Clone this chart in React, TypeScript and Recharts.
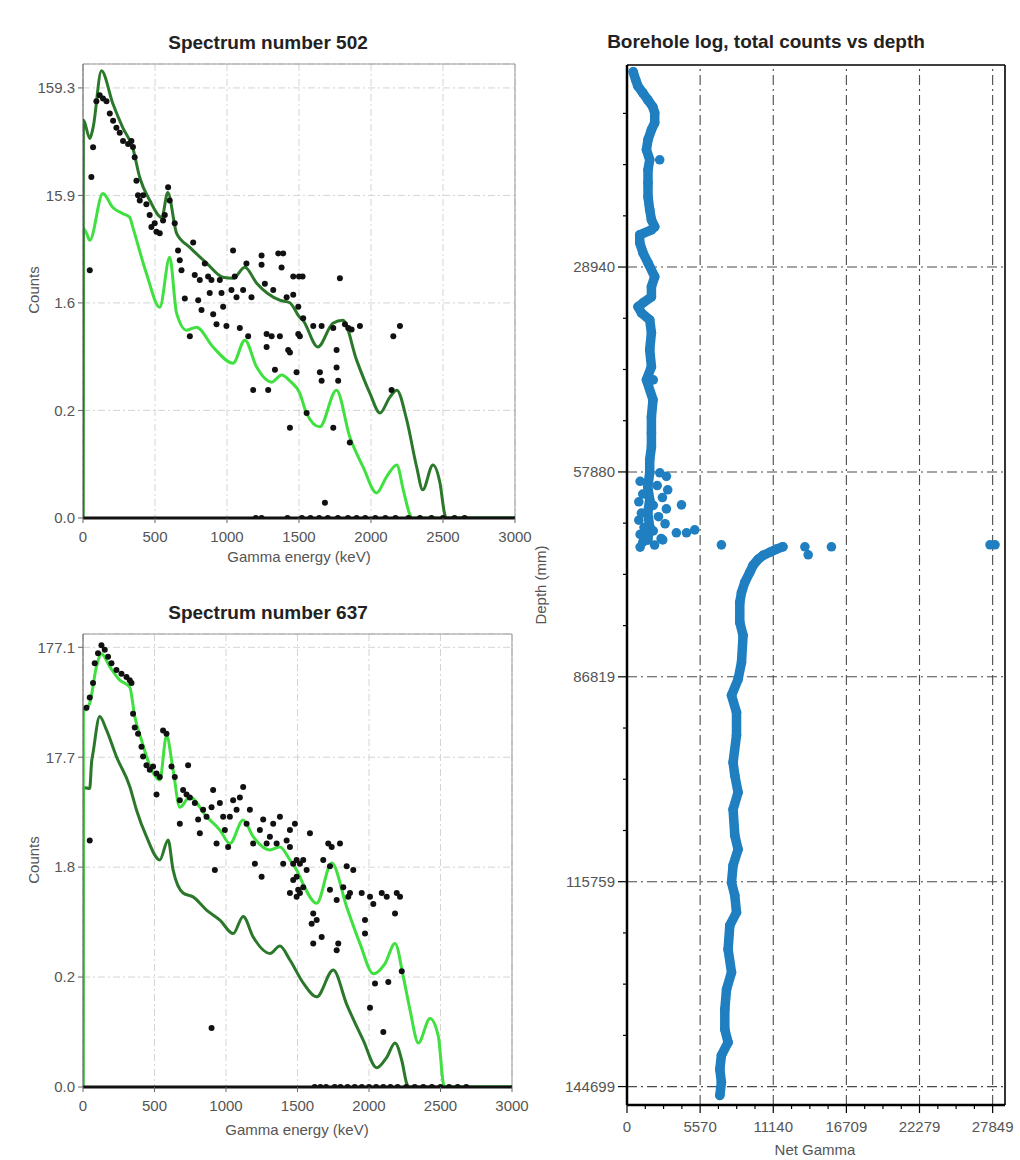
import React from 'react';
import {
  ComposedChart,
  ScatterChart,
  Line,
  Scatter,
  XAxis,
  YAxis,
  CartesianGrid,
  ReferenceLine,
} from 'recharts';

type Pt = [number, number];

const FONT = '"Liberation Sans", Arial, Helvetica, sans-serif';
const DARK = '#2b782b';
const LIGHT = '#3fe03f';
const BLUE = '#1f7fc0';

// ---------- Spectrum 502 : [energy keV, counts] ----------
const s502YTicks = [0.0159, 0.1593, 1.593, 15.93, 159.3];
const s502YMax = 266;
const s502DarkFit: Pt[] = [
  [0, 0.0159], [3, 80], [47, 54], [70, 68], [128, 230], [207, 114], [276, 68], [346, 44],
  [394, 23.4], [464, 14.3], [547, 9.95], [589, 17], [650, 7.07], [742, 5.24], [860, 3.72],
  [972, 2.76], [1042, 2.7], [1124, 3.42], [1206, 2.43], [1366, 1.69], [1436, 1.6], [1505, 1.17],
  [1527, 1.1], [1631, 0.62], [1735, 1.03], [1805, 1.1], [1900, 0.468], [1992, 0.231],
  [2062, 0.151], [2131, 0.212], [2179, 0.246], [2248, 0.13], [2317, 0.0475], [2359, 0.0291],
  [2430, 0.0496], [2479, 0.0337], [2513, 0.017], [2525, 0.0159], [3000, 0.0159],
];
const s502LightFit: Pt[] = [
  [0, 0.0159], [3, 7.8], [25, 7.07], [47, 6.09], [138, 16.6], [207, 12.3], [276, 10.8],
  [324, 10], [346, 8.04], [440, 3.01], [533, 1.45], [602, 4.23], [650, 1.28], [719, 0.889],
  [788, 0.948], [903, 0.62], [1042, 0.438], [1124, 0.718], [1206, 0.403], [1310, 0.292],
  [1380, 0.34], [1436, 0.3], [1505, 0.231], [1551, 0.151], [1644, 0.112], [1760, 0.246],
  [1853, 0.09], [1945, 0.0475], [2039, 0.0272], [2108, 0.0384], [2179, 0.0496], [2224, 0.0291],
  [2271, 0.017], [2285, 0.0159], [3000, 0.0159],
];
const s502Counts: Pt[] = [
  [58, 23.6], [47, 3.2], [70, 44.7], [93, 120], [116, 136], [139, 127], [163, 120], [186, 92],
  [209, 79], [232, 68], [255, 61], [278, 51], [313, 48], [336, 51], [347, 45], [359, 36],
  [371, 21.8], [382, 16], [394, 14.3], [417, 16], [440, 13.2], [463, 10.5], [475, 8.1],
  [498, 8.8], [510, 7.3], [533, 7.1], [556, 9.3], [568, 10.5], [591, 19], [602, 14.3],
  [637, 8.8], [660, 4.9], [672, 3.97], [684, 3.2], [707, 1.75], [742, 0.78], [765, 5.8],
  [776, 2.9], [811, 2.6], [800, 1.69], [823, 1.37], [846, 3.7], [869, 2.8], [892, 2.6],
  [880, 1.97], [904, 1.25], [927, 1.01], [950, 2.6], [962, 1.97], [973, 1.47], [996, 0.97],
  [1031, 2.1], [1042, 4.9], [1054, 2.8], [1066, 1.8], [1089, 0.93], [1112, 2.1], [1135, 3.7],
  [1147, 0.78], [1170, 1.8], [1182, 0.247], [1240, 4.4], [1240, 3.6], [1263, 2.4], [1275, 0.82],
  [1275, 0.62], [1286, 0.247], [1310, 0.78], [1321, 2.1], [1333, 0.38], [1356, 4.6],
  [1367, 0.78], [1379, 3.4], [1390, 4.6], [1414, 1.8], [1425, 0.58], [1437, 0.11], [1460, 2.8],
  [1483, 0.36], [1495, 0.82], [1495, 1.47], [1500, 2.8], [1525, 2.8], [1460, 1.9], [1529, 1.15],
  [1506, 0.78], [1437, 0.55], [1599, 0.97], [1657, 0.97], [1645, 0.36], [1657, 0.3],
  [1553, 0.151], [1738, 0.93], [1761, 0.58], [1761, 0.4], [1772, 0.3], [1738, 0.11],
  [1784, 2.7], [1819, 1.01], [1842, 0.93], [1865, 0.9], [1923, 0.97], [1853, 0.08],
  [1680, 0.022], [2143, 0.247], [2155, 0.78], [2201, 0.97],
  [1200, 0.0159], [1240, 0.0159], [1420, 0.0159], [1520, 0.0159], [1580, 0.0159], [1640, 0.0159],
  [1700, 0.0159], [1770, 0.0159], [1840, 0.0159], [1900, 0.0159], [1960, 0.0159], [2030, 0.0159],
  [2100, 0.0159], [2170, 0.0159], [2260, 0.0159], [2340, 0.0159], [2420, 0.0159], [2500, 0.0159],
  [2580, 0.0159], [2650, 0.0159],
];

// ---------- Spectrum 637 : [energy keV, counts] ----------
const s637YTicks = [0.0177, 0.1771, 1.771, 17.71, 177.1];
const s637YMax = 234;
const s637DarkFit: Pt[] = [
  [0, 0.0177], [3, 9.4], [47, 9.2], [60, 16], [70, 19.3], [117, 41.5], [164, 31.4], [234, 17.9],
  [327, 9.6], [374, 5.87], [444, 3.35], [537, 2.06], [595, 3.13], [630, 1.67], [700, 1.03],
  [770, 0.95], [864, 0.72], [957, 0.585], [1050, 0.44], [1120, 0.63], [1190, 0.41], [1307, 0.29],
  [1377, 0.34], [1447, 0.253], [1542, 0.155], [1634, 0.117], [1750, 0.205], [1844, 0.1],
  [1960, 0.047], [2054, 0.0265], [2124, 0.033], [2182, 0.0446], [2229, 0.031], [2264, 0.019],
  [2275, 0.0177], [3000, 0.0177],
];
const s637LightFit: Pt[] = [
  [0, 0.0177], [3, 48], [12, 47.7], [47, 55], [94, 118], [129, 155], [187, 118], [257, 89],
  [327, 77], [362, 41.5], [409, 25.4], [479, 13.6], [537, 11], [584, 27.8], [630, 13.6],
  [677, 6.2], [747, 7.7], [864, 5.1], [957, 3.86], [1027, 2.9], [1120, 4.76], [1190, 3.35],
  [1307, 2.54], [1377, 2.7], [1447, 2.06], [1494, 1.67], [1542, 1.22], [1634, 0.83], [1739, 1.93],
  [1844, 0.77], [1937, 0.357], [2030, 0.19], [2112, 0.235], [2182, 0.357], [2240, 0.178],
  [2287, 0.0887], [2345, 0.0446], [2427, 0.0745], [2485, 0.051], [2520, 0.019], [2530, 0.0177],
  [3000, 0.0177],
];
const s637Counts: Pt[] = [
  [24, 50], [47, 62], [70, 84], [82, 127], [105, 156], [129, 185], [152, 168], [175, 145],
  [199, 127], [234, 110], [269, 102], [304, 95], [327, 89], [339, 84], [350, 44], [362, 33],
  [385, 29], [409, 22], [420, 18], [444, 15], [467, 13.6], [490, 14.6], [514, 12.6], [537, 11.7],
  [514, 8.1], [560, 31], [584, 29], [619, 14.6], [642, 11.7], [677, 7.2], [700, 8.9], [724, 8.1],
  [747, 7.6], [677, 4.4], [735, 15], [782, 6.8], [805, 4.8], [817, 3.6], [840, 5.9], [864, 5.1],
  [899, 6.2], [910, 8.9], [934, 2.9], [957, 6.8], [980, 5.1], [992, 3.86], [1015, 2.7],
  [1027, 5.1], [1050, 7.2], [1074, 5.9], [1097, 7.6], [1120, 9.5], [1144, 4.4], [1167, 5.9],
  [1190, 2.9], [1202, 1.9], [1237, 3.86], [1249, 1.45], [1260, 4.8], [1284, 2.9], [1307, 3.35],
  [1330, 4.4], [1354, 2.9], [1377, 5.1], [1400, 1.9], [1424, 3.1], [1447, 2.7], [1470, 1.9],
  [1482, 4.4], [1494, 1.45], [1505, 1.1], [1447, 1.03], [922, 1.67], [899, 0.061], [47, 3.1],
  [1587, 3.6], [1447, 3.86], [1470, 1.35], [1494, 2.06], [1517, 1.9], [1540, 2.06], [1564, 1.67],
  [1540, 1.16], [1494, 0.95], [1517, 1.03], [1610, 0.67], [1634, 0.585], [1599, 0.54],
  [1610, 0.357], [1669, 0.41], [1715, 2.9], [1739, 2.7], [1797, 2.9], [1680, 2.06], [1727, 1.8],
  [1844, 1.8], [1890, 1.67], [1727, 1.1], [1774, 0.89], [1820, 1.16], [1855, 0.95], [1785, 0.357],
  [1774, 0.31], [1867, 1.03], [1949, 1.03], [2007, 0.95], [2089, 1.03], [2124, 0.95], [2194, 1.03],
  [2217, 0.95], [2030, 0.82], [2182, 0.67], [1972, 0.585], [1972, 0.44], [2229, 0.2], [2042, 0.155],
  [2135, 0.16], [2007, 0.093], [2100, 0.056],
  [1620, 0.0177], [1660, 0.0177], [1700, 0.0177], [1760, 0.0177], [1800, 0.0177], [1850, 0.0177],
  [1900, 0.0177], [1950, 0.0177], [2000, 0.0177], [2050, 0.0177], [2100, 0.0177], [2150, 0.0177],
  [2200, 0.0177], [2260, 0.0177], [2320, 0.0177], [2380, 0.0177], [2440, 0.0177], [2500, 0.0177],
  [2560, 0.0177], [2620, 0.0177], [2680, 0.0177],
];

const energyTicks = [0, 500, 1000, 1500, 2000, 2500, 3000];

// ---------- Borehole : [depth mm, net gamma] ----------
const boreDepthTicks = [28940, 57880, 86819, 115759, 144699];
const boreGammaTicks = [0, 5570, 11140, 16709, 22279, 27849];
const boreDepthDomain: Pt = [400, 147300];
const boreGammaDomain: Pt = [0, 28790];
const boreUpper: Pt[] = [
  [1360, 470], [2490, 660], [3330, 815], [4320, 1200], [5310, 1580], [6300, 1960], [7150, 2110],
  [8560, 2110], [9550, 1860], [10960, 1600], [12380, 1480], [13790, 1730], [15200, 1600],
  [17040, 1600], [19020, 1600], [20850, 1730], [22260, 1860], [23250, 2110], [23680, 1860],
  [24380, 970], [25510, 970], [26930, 1220], [28340, 1600], [30320, 2110], [31730, 1860],
  [33140, 1860], [34000, 1220], [34550, 840], [35400, 1100], [36390, 1730], [38230, 1860],
  [40630, 1730], [43030, 1860], [44870, 1480], [47690, 1980], [50090, 1860], [52350, 1860],
  [54330, 1860], [56170, 1730], [58000, 1730], [59980, 1580], [61820, 1730], [63660, 1580],
  [65640, 1730], [67480, 1580],
];
const boreLower: Pt[] = [
  [68450, 11870], [68780, 11390], [69230, 10880], [69660, 10370], [70230, 9980], [71080, 9600],
  [72070, 9350], [73480, 8970], [74900, 8720], [76310, 8590], [79130, 8590], [80970, 8840],
  [84780, 8720], [87180, 8460], [89440, 7960], [91840, 8340], [95090, 8340], [98910, 8080],
  [100750, 8210], [103150, 8460], [105550, 8080], [109220, 8210], [111200, 8460], [113460, 8080],
  [115860, 7960], [117700, 8210], [120100, 8340], [121930, 7830], [125320, 7700], [128570, 7960],
  [130970, 7580], [133800, 7450], [136620, 7450], [138460, 7700], [140290, 7190], [142270, 7070],
  [144100, 7190], [145940, 7070],
];
const boreScattered: Pt[] = [
  [13790, 2490], [44870, 2000],
  [58000, 2500], [58500, 3000], [59200, 1000], [59800, 2300], [60400, 3100], [61000, 1200],
  [61500, 2700], [62100, 900], [62600, 2000], [63100, 3000], [63700, 1100], [64200, 2400],
  [64700, 900], [65200, 2900], [65700, 1300], [66200, 2000], [66700, 1000], [67300, 2600],
  [67800, 1200], [68200, 2100], [68500, 1000],
  [62530, 4150], [66480, 3760], [66480, 4530], [66060, 5160], [67480, 2720], [68180, 7190],
  [68450, 13550], [69580, 13800], [68450, 15570], [68170, 27650], [68170, 28030],
];

const specXY = (a: Pt[]) => a.map(([e, v]) => ({ e, v }));
const boreXY = (a: Pt[]) => a.map(([d, g]) => ({ d, g }));

const BlackDot = (p: any) => <circle cx={p.cx} cy={p.cy} r={3} fill="#111" />;
const BlueDot = (p: any) => <circle cx={p.cx} cy={p.cy} r={4.8} fill={BLUE} />;

const TickStyle = { fill: '#555', fontSize: 15, fontFamily: FONT };

function Spectrum(props: {
  dark: Pt[];
  light: Pt[];
  counts: Pt[];
  yTicks: number[];
  yMax: number;
  lightOnTop: boolean;
  height: number;
  xAxisHeight: number;
  marginRight: number;
}) {
  const { dark, light, counts, yTicks, yMax, lightOnTop, height, xAxisHeight, marginRight } = props;
  const darkLine = (
    <Line
      key="dark"
      data={specXY(dark)}
      dataKey="v"
      type="monotone"
      stroke={DARK}
      strokeWidth={3}
      dot={false}
      isAnimationActive={false}
    />
  );
  const lightLine = (
    <Line
      key="light"
      data={specXY(light)}
      dataKey="v"
      type="monotone"
      stroke={LIGHT}
      strokeWidth={3}
      dot={false}
      isAnimationActive={false}
    />
  );
  return (
    <ComposedChart width={545} height={height} margin={{ top: 64, right: marginRight, bottom: 0, left: 23 }}>
      <CartesianGrid stroke="#d4d4d4" strokeDasharray="7 3 2 3" />
      <XAxis
        type="number"
        dataKey="e"
        domain={[0, 3000]}
        ticks={energyTicks}
        interval={0}
        allowDataOverflow
        height={xAxisHeight}
        tick={TickStyle}
        tickSize={5}
        tickMargin={8}
        tickLine={{ stroke: '#666' }}
        axisLine={{ stroke: '#111', strokeWidth: 3 }}
      />
      <YAxis
        type="number"
        dataKey="v"
        scale="log"
        domain={[yTicks[0], yMax]}
        ticks={yTicks}
        interval={0}
        allowDataOverflow
        width={60}
        tick={TickStyle}
        tickSize={5}
        tickMargin={3}
        tickLine={{ stroke: '#666' }}
        axisLine={{ stroke: '#555' }}
        tickFormatter={(v: number) => v.toFixed(1)}
      />
      <ReferenceLine y={yMax} stroke="#999" ifOverflow="visible" />
      <ReferenceLine x={3000} stroke="#999" ifOverflow="visible" />
      {lightOnTop ? darkLine : lightLine}
      {lightOnTop ? lightLine : darkLine}
      <Scatter data={specXY(counts)} dataKey="v" shape={BlackDot} isAnimationActive={false} />
    </ComposedChart>
  );
}

const minorOf = (major: number[], max: number) => {
  const step = (major[major.length - 1] - major[major.length - 2]) / 4;
  const out: number[] = [];
  for (let i = 1; i * step <= max; i++) {
    if (i % 4 !== 0) out.push(Math.round(i * step));
  }
  return out;
};

const gammaAllTicks = [...boreGammaTicks, ...minorOf(boreGammaTicks, boreGammaDomain[1])].sort((a, b) => a - b);
const depthAllTicks = [...boreDepthTicks, ...minorOf(boreDepthTicks, boreDepthDomain[1])]
  .filter((v) => v >= boreDepthDomain[0])
  .sort((a, b) => a - b);

const GammaTick = (p: any) => {
  const v = p.payload.value;
  const major = boreGammaTicks.includes(v);
  const len = major ? 8 : 4;
  return (
    <g>
      <line x1={p.x} x2={p.x} y1={p.y} y2={p.y + len} stroke="#000" strokeWidth={1.2} />
      {major && (
        <text x={p.x} y={p.y + 16} dy="0.71em" textAnchor="middle" fill="#555" fontSize={15} fontFamily={FONT}>
          {v}
        </text>
      )}
    </g>
  );
};

const DepthTick = (p: any) => {
  const v = p.payload.value;
  const major = boreDepthTicks.includes(v);
  const len = major ? 9 : 4;
  return (
    <g>
      <line x1={p.x - len} x2={p.x} y1={p.y} y2={p.y} stroke="#000" strokeWidth={1.2} />
      {major && (
        <text x={p.x - len - 3} y={p.y} dy="0.36em" textAnchor="end" fill="#555" fontSize={15} fontFamily={FONT}>
          {v}
        </text>
      )}
    </g>
  );
};

function Borehole() {
  const lineStyle = { stroke: BLUE, strokeWidth: 9.5, strokeLinejoin: 'round', strokeLinecap: 'round' } as any;
  return (
    <ScatterChart width={500} height={1160} margin={{ top: 65, right: 15, bottom: 0, left: 27 }}>
      <XAxis
        type="number"
        dataKey="g"
        domain={boreGammaDomain}
        ticks={gammaAllTicks}
        interval={0}
        allowDataOverflow
        height={55}
        tickSize={0}
        tickMargin={0}
        tickLine={false}
        tick={GammaTick}
        axisLine={{ stroke: '#000', strokeWidth: 2.5 }}
      />
      <YAxis
        type="number"
        dataKey="d"
        domain={boreDepthDomain}
        reversed
        ticks={depthAllTicks}
        interval={0}
        allowDataOverflow
        width={80}
        tickSize={0}
        tickMargin={0}
        tickLine={false}
        tick={DepthTick}
        axisLine={{ stroke: '#000', strokeWidth: 2.5 }}
      />
      {boreGammaTicks
        .filter((v) => v > 0)
        .map((v) => (
          <ReferenceLine key={'gx' + v} x={v} stroke="#4a4a4a" strokeWidth={1.1} strokeDasharray="10 4 2 4" />
        ))}
      {boreDepthTicks.map((v) => (
        <ReferenceLine key={'dy' + v} y={v} stroke="#4a4a4a" strokeWidth={1.1} strokeDasharray="10 4 2 4" />
      ))}
      <ReferenceLine y={boreDepthDomain[0]} stroke="#000" strokeWidth={1.6} ifOverflow="visible" />
      <ReferenceLine x={boreGammaDomain[1]} stroke="#000" strokeWidth={1.6} ifOverflow="visible" />
      <Scatter data={boreXY(boreUpper)} shape={BlueDot} line={lineStyle} isAnimationActive={false} />
      <Scatter data={boreXY(boreLower)} shape={BlueDot} line={lineStyle} isAnimationActive={false} />
      <Scatter data={boreXY(boreScattered)} shape={BlueDot} isAnimationActive={false} />
    </ScatterChart>
  );
}

const Txt = (p: { x: number; y: number; text: string; size: number; bold?: boolean; rotate?: boolean }) => (
  <div
    style={{
      position: 'absolute',
      left: p.x,
      top: p.y,
      transform: `translate(-50%, -50%)${p.rotate ? ' rotate(-90deg)' : ''}`,
      whiteSpace: 'nowrap',
      fontSize: p.size,
      fontWeight: p.bold ? 'bold' : 'normal',
      color: p.bold ? '#222' : '#555',
      lineHeight: 1,
    }}
  >
    {p.text}
  </div>
);

export default function App() {
  return (
    <div
      style={{
        position: 'absolute',
        left: 0,
        top: 0,
        width: 1020,
        height: 1160,
        background: '#fff',
        fontFamily: FONT,
        overflow: 'hidden',
      }}
    >
      <div style={{ position: 'absolute', left: 0, top: 0 }}>
        <Spectrum
          dark={s502DarkFit}
          light={s502LightFit}
          counts={s502Counts}
          yTicks={s502YTicks}
          yMax={s502YMax}
          lightOnTop={false}
          height={580}
          xAxisHeight={62}
          marginRight={30}
        />
      </div>
      <div style={{ position: 'absolute', left: 0, top: 570 }}>
        <Spectrum
          dark={s637DarkFit}
          light={s637LightFit}
          counts={s637Counts}
          yTicks={s637YTicks}
          yMax={s637YMax}
          lightOnTop={true}
          height={590}
          xAxisHeight={73}
          marginRight={33}
        />
      </div>
      <div style={{ position: 'absolute', left: 520, top: 0 }}>
        <Borehole />
      </div>

      <Txt x={268} y={42} text="Spectrum number 502" size={19} bold />
      <Txt x={33} y={290} text="Counts" size={15} rotate />
      <Txt x={299} y={556} text="Gamma energy (keV)" size={15} />

      <Txt x={268} y={612} text="Spectrum number 637" size={19} bold />
      <Txt x={33} y={860} text="Counts" size={15} rotate />
      <Txt x={297} y={1129} text="Gamma energy (keV)" size={15} />

      <Txt x={766} y={41} text="Borehole log, total counts vs depth" size={19} bold />
      <Txt x={540} y={585} text="Depth (mm)" size={15} rotate />
      <Txt x={815} y={1149} text="Net Gamma" size={15} />
    </div>
  );
}
